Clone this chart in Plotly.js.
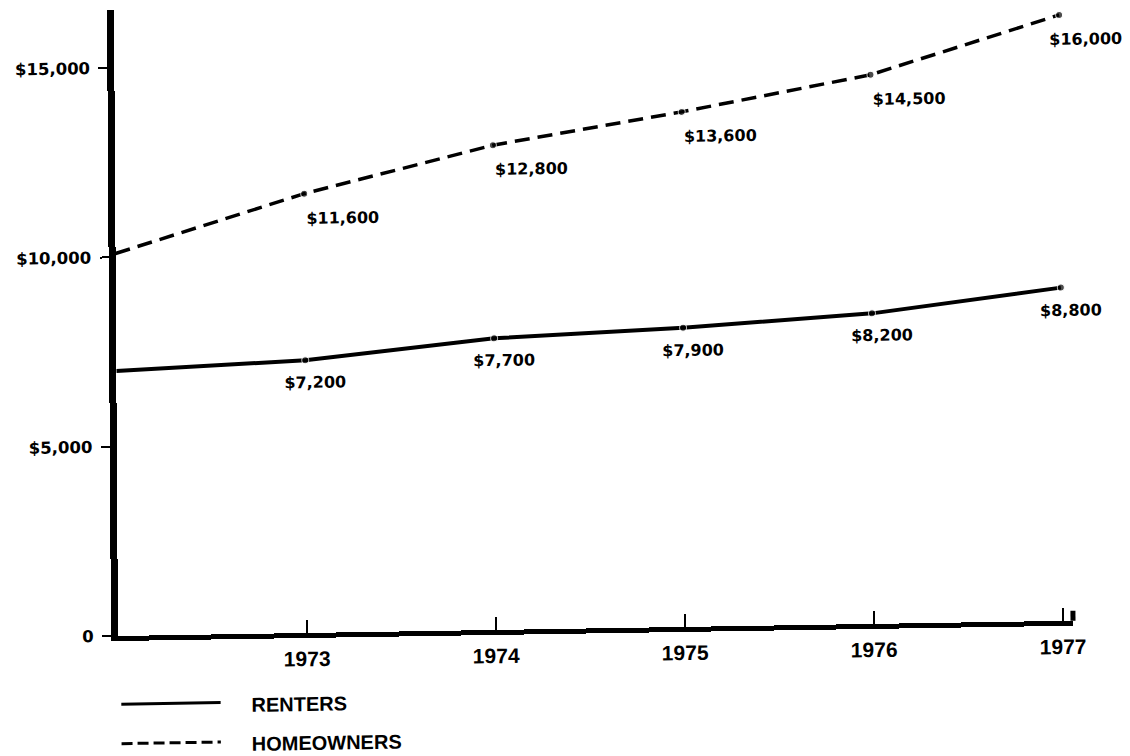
<!DOCTYPE html>
<html>
<head>
<meta charset="utf-8">
<script src="https://cdn.plot.ly/plotly-3.0.1.min.js"></script>
<style>
  html, body { margin: 0; padding: 0; background: #ffffff; }
  #chart { width: 1130px; height: 756px;
           transform-origin: 118px 636px;
           transform: matrix(1, -0.016, 0.0064, 1, 0, 0); }
</style>
</head>
<body>
<div id="chart"></div>
<script>
// ---- data ----
const years = [1972, 1973, 1974, 1975, 1976, 1977];
const renters = [7000, 7200, 7700, 7900, 8200, 8800];
const homeowners = [10100, 11600, 12800, 13600, 14500, 16000];
const xTickVals = [1973, 1974, 1975, 1976, 1977];
const xTickText = ['1973', '1974', '1975', '1976', '1977'];
const yTickVals = [0, 5000, 10000, 15000];
const yTickText = ['0', '$5,000', '$10,000', '$15,000'];
const seriesNames = ['RENTERS', 'HOMEOWNERS'];

const fmt = v => '$' + v.toLocaleString('en-US');
const markerSizes = years.map((y, i) => i === 0 ? 0 : 7);
const last = years.length - 1;

const traces = [
  {
    x: years, y: renters, name: seriesNames[0], type: 'scatter', mode: 'lines+markers',
    line: { color: '#000', width: 4 },
    marker: { color: '#000', size: markerSizes },
    showlegend: false, hoverinfo: 'skip'
  },
  {
    x: years, y: homeowners, name: seriesNames[1], type: 'scatter', mode: 'lines+markers',
    line: { color: '#000', width: 3.5, dash: '15px,8px' },
    marker: { color: '#000', size: markerSizes },
    showlegend: false, hoverinfo: 'skip'
  }
];

const labelFont = { family: 'DejaVu Sans', size: 16, color: '#000', weight: 700 };
const annotations = [];
years.forEach((yr, i) => {
  if (i === 0) return;
  annotations.push({
    x: yr, y: renters[i], xref: 'x', yref: 'y', text: fmt(renters[i]),
    showarrow: false, xanchor: 'center', yanchor: 'top', xshift: 10, yshift: -11,
    font: labelFont
  });
  annotations.push({
    x: yr, y: homeowners[i], xref: 'x', yref: 'y', text: fmt(homeowners[i]),
    showarrow: false, xanchor: 'left', yanchor: 'top', xshift: i === last ? -12 : 0, yshift: -13,
    font: labelFont
  });
});

// legend drawn as key lines + labels below the plot
const legendFont = { family: 'Liberation Sans', size: 20, color: '#000', weight: 700 };
const legendRows = [-0.113, -0.175];
annotations.push({ xref: 'paper', yref: 'paper', x: 0.137, y: legendRows[0], text: seriesNames[0],
  showarrow: false, xanchor: 'left', yanchor: 'middle', font: legendFont });
annotations.push({ xref: 'paper', yref: 'paper', x: 0.137, y: legendRows[1], text: seriesNames[1],
  showarrow: false, xanchor: 'left', yanchor: 'middle', font: legendFont });

const shapes = [
  { type: 'line', xref: 'paper', yref: 'paper', x0: 0.003, x1: 0.107, y0: legendRows[0] + 0.004, y1: legendRows[0] + 0.004,
    line: { color: '#000', width: 3 } },
  { type: 'line', xref: 'paper', yref: 'paper', x0: 0.003, x1: 0.107, y0: legendRows[1] + 0.003, y1: legendRows[1] + 0.003,
    line: { color: '#000', width: 3, dash: '11px,5px' } },
  { type: 'line', xref: 'paper', yref: 'paper', x0: 1, x1: 1, y0: 0, y1: 0.016,
    line: { color: '#000', width: 5 } }
];

const layout = {
  width: 1130, height: 756,
  margin: { l: 118, r: 57, t: 10, b: 120 },
  paper_bgcolor: '#fff', plot_bgcolor: '#fff',
  showlegend: false,
  xaxis: {
    range: [1972, 1977.053], tickvals: xTickVals, ticktext: xTickText,
    showgrid: false, zeroline: false, showline: true, linecolor: '#000', linewidth: 5,
    ticks: 'inside', ticklen: 13, tickwidth: 2.5, tickcolor: '#000',
    ticklabelstandoff: 3,
    tickfont: { family: 'Liberation Sans', size: 21, color: '#000', weight: 700 }
  },
  yaxis: {
    range: [0, 16530], tickvals: yTickVals, ticktext: yTickText,
    showgrid: false, zeroline: false, showline: true, linecolor: '#000', linewidth: 7,
    ticks: 'outside', ticklen: 9, tickwidth: 2, tickcolor: '#000',
    ticklabelstandoff: 5,
    tickfont: { family: 'DejaVu Sans', size: 16.5, color: '#000', weight: 700 }
  },
  annotations: annotations,
  shapes: shapes
};

Plotly.newPlot('chart', traces, layout, { displayModeBar: false, staticPlot: true });
</script>
</body>
</html>
